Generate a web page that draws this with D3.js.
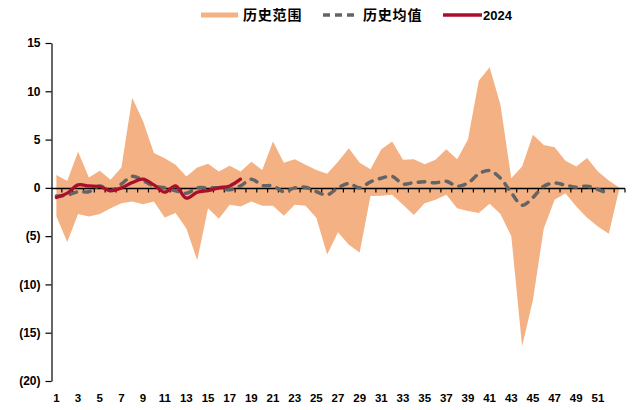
<!DOCTYPE html>
<html>
<head>
<meta charset="utf-8">
<script src="https://cdn.jsdelivr.net/npm/d3@7/dist/d3.min.js"></script>
<style>
  html, body { margin: 0; padding: 0; background: #fff; }
  svg { display: block; }
  text { font-family: Arial, "Liberation Sans", "Noto Sans CJK SC", sans-serif; font-weight: bold; fill: #000; }
</style>
</head>
<body>
<svg id="chart" width="637" height="410"></svg>
<script>
// Week numbers on the category axis
const weeks = [1,2,3,4,5,6,7,8,9,10,11,12,13,14,15,16,17,18,19,20,21,22,23,24,25,26,27,
  28,29,30,31,32,33,34,35,36,37,38,39,40,41,42,43,44,45,46,47,48,49,50,51,52,53];
const weekLabels = [1,3,5,7,9,11,13,15,17,19,21,23,25,27,29,31,33,35,37,39,41,43,45,47,49,51];

// Historical range: upper and lower bound per week
const rangeMax = [1.34,0.72,3.75,1.07,1.76,0.83,2.1,9.34,6.9,3.6,3.07,2.4,1.17,2.1,2.5,1.7,2.3,1.7,
  2.7,1.86,4.8,2.6,2.97,2.4,1.86,1.45,2.7,4.1,2.6,1.93,4.0,4.8,2.9,2.97,2.45,2.9,4.0,2.97,5.0,
  11.1,12.5,8.6,1.0,2.2,5.5,4.45,4.2,2.8,2.2,3.1,1.7,0.76,0];
const rangeMin = [-2.97,-5.6,-2.7,-2.97,-2.7,-2.1,-1.6,-1.4,-1.7,-1.4,-3.07,-2.6,-4.2,-7.5,-2.1,
  -3.2,-1.76,-1.93,-1.4,-1.86,-1.86,-2.9,-1.76,-1.86,-3.1,-6.9,-4.6,-5.9,-6.7,-0.85,-0.83,-0.72,
  -1.76,-2.8,-1.6,-1.24,-0.72,-2.1,-2.4,-2.6,-1.65,-2.7,-5.0,-16.4,-11.6,-4.2,-1.24,-0.55,-1.93,
  -3.1,-4.0,-4.75,0];

// Historical mean per week (weeks 1-52)
const histMean = [-0.85,-0.75,-0.4,-0.4,0.2,-0.3,0.4,1.2,0.76,0.2,0,-0.3,-0.55,0,0,0,-0.2,0.2,
  0.9,0.25,0.2,-0.4,0,0.07,-0.4,-0.72,0,0.45,0,0.62,1.0,1.2,0.4,0.55,0.62,0.52,0.69,0.17,0.5,
  1.45,1.8,1.0,-0.5,-1.8,-1.0,0.17,0.5,0.28,0.07,0.17,-0.17,-0.6];

// 2024 so far (weeks 1-18)
const y2024 = [-1.0,-0.55,0.3,0.2,0.14,-0.28,0,0.55,0.9,0.3,-0.45,0.2,-1.07,-0.45,-0.28,0,0.2,0.9];

const yTicks = [-20,-15,-10,-5,0,5,10,15];

const svg = d3.select("#chart");

const x = d3.scaleBand().domain(weeks).range([51, 625]);
const cx = w => x(w) + x.bandwidth() / 2;
const y = d3.scaleLinear().domain([-20, 15]).range([381, 43]);

const colors = { band: "#F4B183", mean: "#646464", cur: "#A80F2A" };

// Range band
const area = d3.area()
  .x((d, i) => cx(weeks[i]))
  .y0((d, i) => y(rangeMin[i]))
  .y1((d, i) => y(rangeMax[i]));
svg.append("path")
  .datum(rangeMax)
  .attr("d", area)
  .attr("fill", colors.band);

// Y axis
const yAxis = d3.axisLeft(y)
  .tickValues(yTicks)
  .tickSize(6)
  .tickSizeOuter(0)
  .tickPadding(5)
  .tickFormat(d => d < 0 ? `(${-d})` : `${d}`);
const gy = svg.append("g").attr("transform", "translate(51.5,0)").call(yAxis);
gy.selectAll("text").style("font-size", "12px").style("font-family", "Arial, 'Liberation Sans', sans-serif");
gy.selectAll("line, path").attr("stroke", "#000").attr("stroke-width", 1.2);

// Zero line with boundary ticks between weeks
const y0 = Math.round(y(0)) + 0.5;
const gz = svg.append("g");
gz.append("line")
  .attr("x1", x(weeks[0])).attr("x2", x(weeks[weeks.length - 1]) + x.bandwidth())
  .attr("y1", y0).attr("y2", y0)
  .attr("stroke", "#000").attr("stroke-width", 1.3);
const boundaries = weeks.slice(1).map(w => x(w)).concat([x(weeks[weeks.length - 1]) + x.bandwidth()]);
gz.selectAll("line.tick")
  .data(boundaries)
  .join("line")
  .attr("class", "tick")
  .attr("x1", d => d).attr("x2", d => d)
  .attr("y1", y0).attr("y2", y0 + 4)
  .attr("stroke", "#000").attr("stroke-width", 1.2);

// Week labels along the bottom
svg.append("g").selectAll("text")
  .data(weekLabels)
  .join("text")
  .attr("x", d => cx(d))
  .attr("y", 402)
  .attr("text-anchor", "middle")
  .style("font-size", "11.5px")
  .text(d => d);

// Historical mean line
const meanLine = d3.line()
  .x((d, i) => cx(weeks[i]))
  .y(d => y(d))
  .curve(d3.curveCatmullRom.alpha(0.5));
svg.append("path")
  .datum(histMean)
  .attr("d", meanLine)
  .attr("fill", "none")
  .attr("stroke", colors.mean)
  .attr("stroke-width", 3.5)
  .attr("stroke-dasharray", "6.5,7.5")
  .attr("stroke-linecap", "round");

// 2024 line
svg.append("path")
  .datum(y2024)
  .attr("d", meanLine)
  .attr("fill", "none")
  .attr("stroke", colors.cur)
  .attr("stroke-width", 3.3)
  .attr("stroke-linecap", "round");

// Legend
const lg = svg.append("g");
lg.append("rect").attr("x", 201).attr("y", 12.5).attr("width", 37).attr("height", 5).attr("fill", colors.band);
lg.append("text").attr("x", 243).attr("y", 20).style("font-size", "14px").style("letter-spacing", "0.8px")
  .style("font-family", "'Noto Sans CJK SC', sans-serif").text("历史范围");
lg.append("line").attr("x1", 323).attr("x2", 356).attr("y1", 15).attr("y2", 15)
  .attr("stroke", colors.mean).attr("stroke-width", 3.5).attr("stroke-dasharray", "7,5");
lg.append("text").attr("x", 363).attr("y", 20).style("font-size", "14px").style("letter-spacing", "0.8px")
  .style("font-family", "'Noto Sans CJK SC', sans-serif").text("历史均值");
lg.append("line").attr("x1", 443).attr("x2", 482).attr("y1", 15).attr("y2", 15)
  .attr("stroke", colors.cur).attr("stroke-width", 3.3);
lg.append("text").attr("x", 483).attr("y", 20).style("font-size", "13px").text("2024");
</script>
</body>
</html>
